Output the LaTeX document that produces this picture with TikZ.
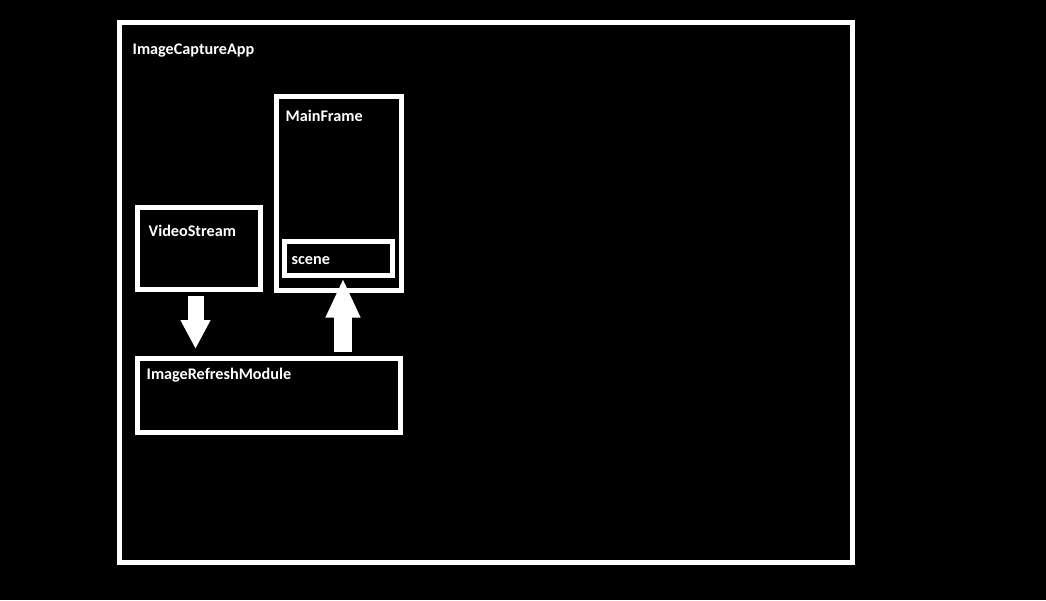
\documentclass[tikz,border=0pt]{standalone}
\usepackage{fontspec}
\setmainfont{Carlito}
\usetikzlibrary{positioning,arrows.meta}

\begin{document}
\begin{tikzpicture}[x=1pt,y=-1pt,
  box/.style={draw=white,line width=5pt,inner sep=0pt},
  lbl/.style={white,anchor=base west,inner sep=0pt,font=\fontsize{16.2}{18}\selectfont\bfseries},
  fatarrow/.style={white,line width=#1}]
%\draw[gray] (0,0) grid[step=50] (1046,600);
\fill[black] (0,0) rectangle (1046,600);
\useasboundingbox (0,0) rectangle (1046,600);
\node [box,minimum width=733pt,minimum height=540pt] (app) at (486,292.5) {};
\node [box,minimum width=124.5pt,minimum height=193.5pt] (mainframe) at (338.75,193.25) {};
\node [box,minimum width=107.5pt,minimum height=33.5pt] (scene) at (338.25,258.25) {};
\node [box,minimum width=123pt,minimum height=82pt] (video) at (199,248.5) {};
\node [box,minimum width=263pt,minimum height=74pt] (refresh) at (269,395.5) {};
\node [lbl] (applbl) at ([xshift=15.5pt,yshift=-34pt]app.north west) {ImageCaptureApp};
\node [lbl] (mainframelbl) at ([xshift=11.5pt,yshift=-27pt]mainframe.north west) {MainFrame};
\node [lbl] (scenelbl) at ([xshift=9.5pt,yshift=-25pt]scene.north west) {scene};
\node [lbl] (videolbl) at ([xshift=13.5pt,yshift=-31pt]video.north west) {VideoStream};
\node [lbl] (refreshlbl) at ([xshift=11.5pt,yshift=-23pt]refresh.north west) {ImageRefreshModule};
\coordinate (downx) at (195.5,0);
\coordinate (upx) at (343,0);
\draw [fatarrow=16pt,-{Triangle[width=28pt,length=29pt]},shorten <=4pt,shorten >=7pt] (video.south -| downx) -- (refresh.north -| downx);
\draw [fatarrow=18pt,-{Triangle[width=32pt,length=39pt]},shorten <=4pt,shorten >=1pt] (refresh.north -| upx) -- (scene.south -| upx);
\end{tikzpicture}
\end{document}
